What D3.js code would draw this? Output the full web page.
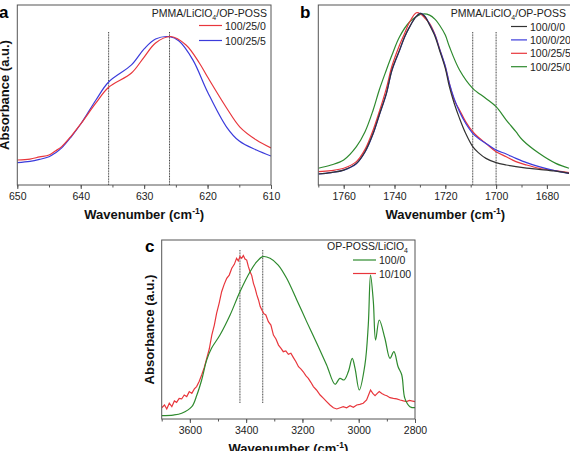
<!DOCTYPE html>
<html>
<head>
<meta charset="utf-8">
<script src="https://cdn.jsdelivr.net/npm/d3@7"></script>
<style>
    body { margin: 0; background: #fff; }
    svg { display: block; font-family: "Liberation Sans", Arial, sans-serif; }
    .tick-label { font-size: 10.5px; fill: #222; }
    .axis-title { font-size: 13px; font-weight: bold; fill: #111; }
    .legend-text { font-size: 10.5px; fill: #222; }
    .panel-letter { font-size: 17px; font-weight: bold; fill: #000; }
</style>
</head>
<body>
<script>
// panel a : PMMA/LiClO4/OP-POSS, 650-610 cm-1
var aTicks = [650, 640, 630, 620, 610];
var aMarkers = [635.6, 626];
var aSeries100_25_0 = [[650, 0.139], [648, 0.144], [646.5, 0.156], [645, 0.167], [644, 0.189], [643, 0.213],
    [641.5, 0.272], [640, 0.339], [637.6, 0.456], [635.6, 0.543], [632, 0.622], [630, 0.711], [628.2, 0.789],
    [625.8, 0.825], [623.4, 0.778], [621.3, 0.678], [620, 0.600], [617, 0.428], [614.9, 0.322], [612.3, 0.250],
    [610, 0.206]];
var aSeries100_25_5 = [[650, 0.124], [648, 0.131], [646.5, 0.142], [645, 0.157], [644, 0.178], [643, 0.206],
    [641.5, 0.268], [640, 0.339], [637.6, 0.472], [635.6, 0.572], [632, 0.667], [630, 0.756], [628.2, 0.811],
    [626, 0.824], [624.5, 0.800], [622.3, 0.694], [620, 0.517], [617, 0.322], [615, 0.244], [612.3, 0.194],
    [610, 0.161]];

// panel b : C=O region
var bTicks = [1760, 1740, 1720, 1700, 1680];
var bMarkers = [1709.2, 1700];
var bSeries100_0_0 = [[1770, 0.061], [1765, 0.069], [1760, 0.083], [1755, 0.120], [1751.6, 0.185], [1748.4, 0.287],
    [1746, 0.389], [1743.2, 0.509], [1741, 0.639], [1738, 0.750], [1736, 0.824], [1734, 0.880], [1731.5, 0.935],
    [1729.7, 0.954], [1728, 0.935], [1726.2, 0.889], [1724, 0.824], [1722.3, 0.750], [1720, 0.648], [1718.4, 0.546],
    [1716.5, 0.454], [1714.4, 0.370], [1712, 0.287], [1709.2, 0.213], [1707, 0.180], [1704, 0.148], [1700, 0.124],
    [1696, 0.111], [1692.2, 0.102], [1688, 0.094], [1683.1, 0.087], [1677, 0.078], [1671.3, 0.065]];
var bSeries100_0_20 = [[1770, 0.061], [1765, 0.069], [1760, 0.083], [1755, 0.118], [1751.6, 0.183], [1748.4, 0.285],
    [1746, 0.387], [1743.2, 0.507], [1741, 0.637], [1738, 0.748], [1736, 0.822], [1734, 0.880], [1731.5, 0.935],
    [1729.7, 0.954], [1728, 0.937], [1726.2, 0.893], [1724, 0.830], [1722.3, 0.757], [1720, 0.660], [1718.4, 0.565],
    [1716.5, 0.480], [1714.4, 0.407], [1712, 0.343], [1709.2, 0.287], [1707, 0.259], [1704, 0.231], [1700, 0.194],
    [1696, 0.172], [1692.2, 0.148], [1688, 0.124], [1683.1, 0.102], [1677, 0.080], [1671.3, 0.065]];
var bSeries100_25_5 = [[1770, 0.074], [1765, 0.080], [1760, 0.093], [1755, 0.130], [1751.6, 0.198], [1748.4, 0.306],
    [1746, 0.407], [1743.2, 0.537], [1741, 0.661], [1738, 0.778], [1736, 0.843], [1734, 0.907], [1731.4, 0.957],
    [1729.7, 0.950], [1728, 0.926], [1726.2, 0.898], [1724, 0.833], [1722.3, 0.759], [1720, 0.657], [1718.4, 0.565],
    [1716.5, 0.472], [1714.4, 0.417], [1712, 0.352], [1709.2, 0.296], [1707, 0.265], [1704, 0.231], [1700, 0.185],
    [1696, 0.157], [1692.2, 0.130], [1688, 0.111], [1683.1, 0.093], [1677, 0.080], [1671.3, 0.069]];
var bSeries100_25_0 = [[1770, 0.093], [1765, 0.111], [1760, 0.139], [1755, 0.213], [1751.6, 0.296], [1748.4, 0.417],
    [1746, 0.528], [1743.2, 0.639], [1741, 0.722], [1738, 0.824], [1734, 0.907], [1731, 0.939], [1728.8, 0.950],
    [1726.2, 0.944], [1724, 0.920], [1722.3, 0.889], [1720, 0.833], [1718.4, 0.769], [1714.4, 0.639], [1709.2, 0.537],
    [1704, 0.481], [1700, 0.435], [1696, 0.361], [1692.2, 0.296], [1689.6, 0.250], [1683.1, 0.176], [1676.5, 0.120],
    [1671.3, 0.093]];

// panel c : OP-POSS/LiClO4, O-H / C-H region
var cTicks = [3600, 3400, 3200, 3000, 2800];
var cMarkers = [3422, 3341];
var cSeries100_0 = [[3700, 0.019], [3659, 0.022], [3629, 0.032], [3593, 0.069], [3575, 0.134], [3558, 0.218],
    [3540, 0.330], [3523, 0.395], [3493, 0.469], [3457, 0.581], [3422, 0.711], [3386, 0.823], [3362, 0.879],
    [3341, 0.907], [3315, 0.898], [3286, 0.860], [3256, 0.786], [3220, 0.665], [3185, 0.544], [3149, 0.423],
    [3114, 0.302], [3084, 0.194], [3067, 0.227], [3052, 0.218], [3037, 0.264], [3023, 0.339], [3013, 0.283],
    [2998, 0.162], [2978, 0.302], [2966, 0.525], [2958, 0.804], [2948, 0.655], [2940, 0.441], [2927, 0.553],
    [2907, 0.451], [2889, 0.339], [2875, 0.376], [2860, 0.292], [2847, 0.246], [2836, 0.115], [2818, 0.069],
    [2800, 0.063]];
var cSeries10_100 = [[3700, 0.063], [3690, 0.078], [3682, 0.056], [3673, 0.088], [3664, 0.069], [3655, 0.101],
    [3647, 0.093], [3638, 0.115], [3629, 0.112], [3620, 0.134], [3611, 0.125], [3602, 0.153], [3593, 0.143],
    [3584, 0.168], [3576, 0.181], [3567, 0.209], [3558, 0.246], [3549, 0.287], [3540, 0.339], [3531, 0.391],
    [3522, 0.469], [3513, 0.525], [3505, 0.590], [3496, 0.646], [3487, 0.711], [3478, 0.752], [3469, 0.786],
    [3460, 0.804], [3451, 0.842], [3442, 0.864], [3434, 0.898], [3428, 0.883], [3422, 0.907], [3416, 0.898],
    [3410, 0.913], [3404, 0.894], [3398, 0.888], [3392, 0.851], [3386, 0.823], [3380, 0.801], [3374, 0.758],
    [3368, 0.730], [3362, 0.693], [3356, 0.665], [3350, 0.628], [3344, 0.609], [3338, 0.590], [3330, 0.581],
    [3321, 0.544], [3312, 0.525], [3303, 0.469], [3294, 0.447], [3285, 0.413], [3276, 0.395], [3268, 0.376],
    [3259, 0.380], [3250, 0.361], [3241, 0.367], [3232, 0.343], [3223, 0.320], [3214, 0.292], [3205, 0.279],
    [3197, 0.264], [3188, 0.242], [3179, 0.227], [3170, 0.205], [3161, 0.181], [3150, 0.162], [3137, 0.134],
    [3125, 0.115], [3114, 0.097], [3102, 0.078], [3090, 0.063], [3078, 0.056], [3066, 0.063], [3055, 0.069],
    [3043, 0.063], [3031, 0.074], [3019, 0.065], [3007, 0.078], [2996, 0.082], [2984, 0.088], [2972, 0.106],
    [2965, 0.134], [2958, 0.162], [2950, 0.143], [2942, 0.130], [2934, 0.143], [2927, 0.153], [2918, 0.143],
    [2908, 0.134], [2900, 0.130], [2889, 0.119], [2877, 0.115], [2865, 0.112], [2853, 0.106], [2841, 0.101],
    [2830, 0.097], [2820, 0.104], [2812, 0.101], [2800, 0.097]];

var colors = { red: "#e8363c", blue: "#3b3bdb", black: "#333333", green: "#2e8a2e" };

(function () {
    var svg = d3.select("body").append("svg")
        .attr("width", 570)
        .attr("height", 451);

    var panels = [
        {
            letter: "a", letterX: -1, letterY: 18,
            x0: 17.3, x1: 271, y0: 5, y1: 185,
            domain: [650, 610], ticks: aTicks, minorStep: 5,
            markers: aMarkers, markerTop: 32, markerBottom: 185,
            yLabel: true,
            legendTitle: ["PMMA/LiClO", "4", "/OP-POSS"], legendTitleX: 267, legendTitleY: 17,
            legendLineX: [199, 222], legendY0: 25.5, legendStep: 15,
            series: [
                { name: "100/25/0", data: aSeries100_25_0, color: colors.red },
                { name: "100/25/5", data: aSeries100_25_5, color: colors.blue }
            ]
        },
        {
            letter: "b", letterX: 300, letterY: 18,
            x0: 318.3, x1: 572.3, y0: 5, y1: 185,
            domain: [1770, 1670], ticks: bTicks, minorStep: 10,
            markers: bMarkers, markerTop: 32, markerBottom: 185,
            yLabel: false,
            legendTitle: ["PMMA/LiClO", "4", "/OP-POSS"], legendTitleX: 566, legendTitleY: 17,
            legendLineX: [511, 527], legendY0: 26.5, legendStep: 13.4,
            series: [
                { name: "100/0/0", data: bSeries100_0_0, color: colors.black },
                { name: "100/0/20", data: bSeries100_0_20, color: colors.blue },
                { name: "100/25/5", data: bSeries100_25_5, color: colors.red },
                { name: "100/25/0", data: bSeries100_25_0, color: colors.green }
            ]
        },
        {
            letter: "c", letterX: 145, letterY: 252,
            x0: 161.7, x1: 415, y0: 240, y1: 419,
            domain: [3700, 2800], ticks: cTicks, minorStep: 100,
            markers: cMarkers, markerTop: 250, markerBottom: 403,
            yLabel: true,
            legendTitle: ["OP-POSS/LiClO", "4", ""], legendTitleX: 408, legendTitleY: 250,
            legendLineX: [353, 376], legendY0: 260, legendStep: 13.5,
            series: [
                { name: "100/0", data: cSeries100_0, color: colors.green, curve: d3.curveCatmullRom },
                { name: "10/100", data: cSeries10_100, color: colors.red, curve: d3.curveLinear }
            ]
        }
    ];

    var view = {
        drawPanel: function (p) {
            var x = d3.scaleLinear().domain(p.domain).range([p.x0, p.x1]);
            var y = d3.scaleLinear().domain([0, 1]).range([p.y1, p.y0]);

            var g = svg.append("g");

            // clip so curves stay inside the frame
            var clipId = "clip-" + p.letter;
            g.append("clipPath").attr("id", clipId)
                .append("rect")
                .attr("x", p.x0).attr("y", p.y0)
                .attr("width", p.x1 - p.x0).attr("height", p.y1 - p.y0);

            // marker lines
            g.selectAll(".marker")
                .data(p.markers)
                .enter().append("line")
                .attr("x1", function (d) { return x(d); })
                .attr("x2", function (d) { return x(d); })
                .attr("y1", p.markerTop)
                .attr("y2", p.markerBottom)
                .attr("stroke", "#444")
                .attr("stroke-width", 1)
                .attr("stroke-dasharray", "1,0.6");

            // curves (drawn in reverse so the first legend entry lands on top)
            var curveG = g.append("g").attr("clip-path", "url(#" + clipId + ")");
            p.series.slice().reverse().forEach(function (s) {
                var line = d3.line()
                    .x(function (d) { return x(d[0]); })
                    .y(function (d) { return y(d[1]); })
                    .curve(s.curve || d3.curveCatmullRom);
                curveG.append("path")
                    .datum(s.data)
                    .attr("fill", "none")
                    .attr("stroke", s.color)
                    .attr("stroke-width", 1.2)
                    .attr("d", line);
            });

            // frame
            g.append("rect")
                .attr("x", p.x0).attr("y", p.y0)
                .attr("width", p.x1 - p.x0).attr("height", p.y1 - p.y0)
                .attr("fill", "none")
                .attr("stroke", "#555")
                .attr("stroke-width", 1);

            // bottom axis, major + minor ticks
            var minor = d3.range(p.domain[1], p.domain[0] + 0.001, p.minorStep);
            g.append("g")
                .attr("transform", "translate(0," + p.y1 + ")")
                .call(d3.axisBottom(x).tickValues(minor).tickSize(2.5).tickFormat(""))
                .call(function (ax) {
                    ax.select(".domain").remove();
                    ax.selectAll("line").attr("stroke", "#555");
                });
            g.append("g")
                .attr("transform", "translate(0," + p.y1 + ")")
                .call(d3.axisBottom(x).tickValues(p.ticks).tickSize(4).tickPadding(4).tickFormat(d3.format("d")))
                .call(function (ax) {
                    ax.select(".domain").remove();
                    ax.selectAll("line").attr("stroke", "#555");
                    ax.selectAll("text")
                        .attr("class", "tick-label")
                        .attr("font-family", null)
                        .attr("font-size", null)
                        .attr("fill", null);
                });

            // x title
            var xt = g.append("text")
                .attr("class", "axis-title")
                .attr("x", (p.x0 + p.x1) / 2)
                .attr("y", p.y1 + 34)
                .attr("text-anchor", "middle");
            xt.append("tspan").text("Wavenumber (cm");
            xt.append("tspan").attr("dy", -5).attr("font-size", "8.5px").text("-1");
            xt.append("tspan").attr("dy", 5).text(")");

            // y title
            if (p.yLabel) {
                g.append("text")
                    .attr("class", "axis-title")
                    .attr("transform", "translate(" + (p.x0 - 8) + "," + ((p.y0 + p.y1) / 2) + ") rotate(-90)")
                    .attr("text-anchor", "middle")
                    .text("Absorbance (a.u.)");
            }

            // panel letter
            g.append("text")
                .attr("class", "panel-letter")
                .attr("x", p.letterX)
                .attr("y", p.letterY)
                .text(p.letter);

            // legend
            var lt = g.append("text")
                .attr("class", "legend-text")
                .attr("x", p.legendTitleX)
                .attr("y", p.legendTitleY)
                .attr("text-anchor", "end");
            lt.append("tspan").text(p.legendTitle[0]);
            lt.append("tspan").attr("dy", 3).attr("font-size", "7px").text(p.legendTitle[1]);
            if (p.legendTitle[2]) {
                lt.append("tspan").attr("dy", -3).text(p.legendTitle[2]);
            }

            p.series.forEach(function (s, i) {
                var ly = p.legendY0 + i * p.legendStep;
                g.append("line")
                    .attr("x1", p.legendLineX[0]).attr("x2", p.legendLineX[1])
                    .attr("y1", ly).attr("y2", ly)
                    .attr("stroke", s.color)
                    .attr("stroke-width", 1.2);
                g.append("text")
                    .attr("class", "legend-text")
                    .attr("x", p.legendLineX[1] + 3)
                    .attr("y", ly + 4)
                    .text(s.name);
            });
        }
    };

    panels.forEach(view.drawPanel);
})();
</script>
</body>
</html>
